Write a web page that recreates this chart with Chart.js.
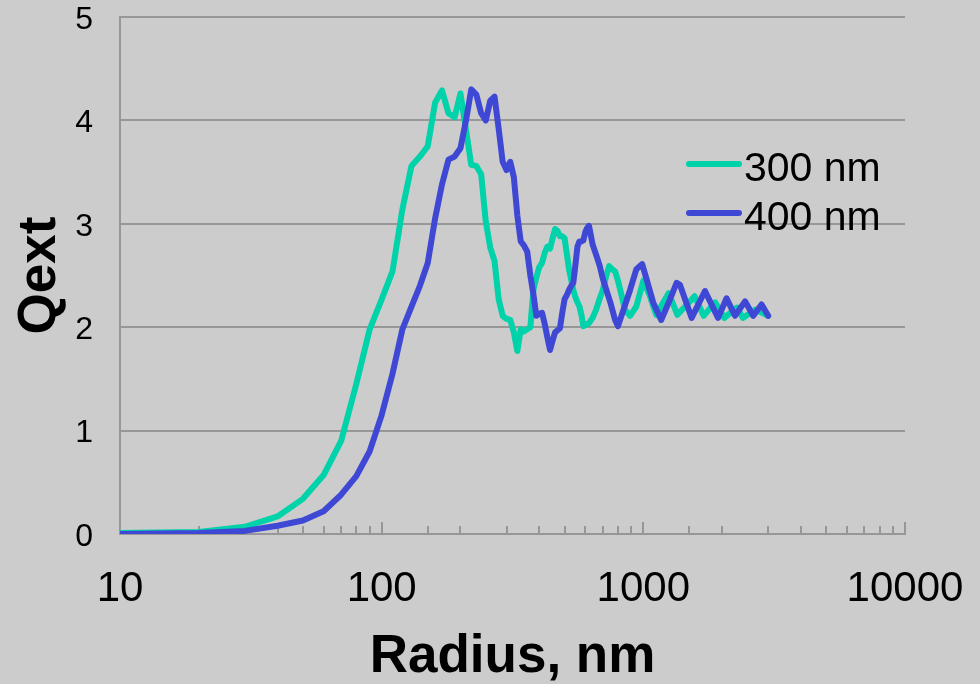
<!DOCTYPE html>
<html>
<head>
<meta charset="utf-8">
<script src="https://cdn.jsdelivr.net/npm/chart.js@4.4.1/dist/chart.umd.min.js"></script>
<style>
  html, body { margin: 0; padding: 0; background: #cccccc; }
  #wrap { position: relative; width: 980px; height: 684px; }
  #legend { position: absolute; left: 686px; top: 143px; font: 41px "Liberation Sans", Arial, sans-serif; color: #000; }
  .row { display: flex; align-items: center; height: 49px; white-space: nowrap; }
  .swatch { width: 56px; height: 6px; border-radius: 3px; margin-right: 2px; position: relative; top: -4px; }
</style>
</head>
<body>
<div id="wrap">
  <canvas id="chart" width="980" height="684" style="width:980px;height:684px"></canvas>
  <div id="legend"></div>
</div>
<script>
// radius (nm) and extinction efficiency
const radius300 = [10, 20, 30, 40, 50, 60, 70, 80, 90, 100, 110, 120, 130, 140, 150, 160, 170, 180, 190, 200,
  210, 220, 230, 240, 250, 260, 270, 280, 290, 300, 310, 320, 330, 340, 350, 360, 370, 380, 390, 400,
  410, 420, 430, 440, 450, 460, 470, 480, 490, 500, 510, 520, 530, 540, 550, 560, 570, 580, 590, 600,
  620, 640, 660, 680, 700, 720, 740, 760, 780, 800, 820, 850, 890, 940, 1000, 1060, 1120, 1250, 1350,
  1570, 1700, 1880, 2040, 2280, 2400, 2680, 3000];
const qext300 = [0.01, 0.02, 0.07, 0.17, 0.34, 0.57, 0.90, 1.45, 1.98, 2.27, 2.54, 3.14, 3.56, 3.65, 3.75, 4.17, 4.29, 4.07, 4.03, 4.26,
  3.91, 3.57, 3.56, 3.48, 3.02, 2.77, 2.64, 2.27, 2.11, 2.08, 2.07, 1.95, 1.77, 1.98, 1.96, 1.98, 2.00, 2.36, 2.48, 2.58,
  2.62, 2.72, 2.78, 2.76, 2.86, 2.95, 2.93, 2.88, 2.88, 2.86, 2.71, 2.56, 2.46, 2.36, 2.29, 2.24, 2.20, 2.12, 2.01, 2.02,
  2.04, 2.09, 2.17, 2.27, 2.36, 2.49, 2.59, 2.56, 2.54, 2.45, 2.34, 2.17, 2.11, 2.20, 2.45, 2.30, 2.12, 2.33, 2.12,
  2.30, 2.11, 2.24, 2.09, 2.19, 2.09, 2.17, 2.11];

const radius400 = [10, 20, 30, 40, 50, 60, 70, 80, 90, 100, 110, 120, 130, 140, 150, 160, 170, 180, 190, 200,
  210, 220, 230, 240, 250, 260, 270, 280, 290, 300, 310, 320, 330, 340, 350, 360, 370, 380, 390, 400,
  410, 420, 430, 440, 450, 460, 470, 480, 490, 500, 510, 520, 530, 540, 550, 560, 570, 580, 590, 600,
  610, 620, 640, 660, 680, 700, 720, 750, 780, 800, 840, 890, 940, 990, 1030, 1090, 1170, 1260, 1340, 1380,
  1530, 1720, 1930, 2080, 2240, 2450, 2630, 2830, 3000];
const qext400 = [0.00, 0.01, 0.03, 0.08, 0.13, 0.22, 0.38, 0.56, 0.80, 1.15, 1.55, 1.98, 2.20, 2.40, 2.62, 3.05, 3.38, 3.62, 3.65, 3.73,
  4.00, 4.30, 4.25, 4.07, 4.00, 4.19, 4.23, 3.92, 3.60, 3.52, 3.60, 3.45, 3.08, 2.83, 2.79, 2.73, 2.50, 2.32, 2.11, 2.13,
  2.14, 2.03, 1.90, 1.78, 1.87, 1.95, 1.97, 1.99, 2.14, 2.27, 2.31, 2.36, 2.40, 2.43, 2.60, 2.78, 2.83, 2.83, 2.84, 2.92,
  2.96, 2.98, 2.80, 2.70, 2.60, 2.47, 2.37, 2.23, 2.07, 2.01, 2.17, 2.36, 2.56, 2.61, 2.46, 2.24, 2.07, 2.26, 2.43, 2.41,
  2.09, 2.35, 2.09, 2.28, 2.11, 2.25, 2.11, 2.22, 2.11];

const seriesNames = ['300 nm', '400 nm'];
const seriesColors = ['#00d2aa', '#3f48d5'];
const xTickLabels = [10, 100, 1000, 10000];
const yTickLabels = [0, 1, 2, 3, 4, 5];

const FONT = '"Liberation Sans", Arial, sans-serif';
const GRID = '#979797';

const toPoints = (xs, ys) => xs.map((x, i) => ({ x: x, y: ys[i] }));
const isLabelled = v => xTickLabels.some(t => Math.abs(t - v) / t < 1e-6);

// Excel-style tick marks pointing up into the plot
const innerTicks = {
  id: 'innerTicks',
  beforeDatasetsDraw(chart) {
    const xs = chart.scales.x;
    const ctx = chart.ctx;
    const base = chart.chartArea.bottom;
    ctx.save();
    ctx.strokeStyle = GRID;
    ctx.lineWidth = 2;
    xs.ticks.forEach(t => {
      const px = Math.round(xs.getPixelForValue(t.value));
      const len = isLabelled(t.value) ? 12 : 8;
      ctx.beginPath();
      ctx.moveTo(px, base);
      ctx.lineTo(px, base - len);
      ctx.stroke();
    });
    ctx.restore();
  }
};

const chart = new Chart(document.getElementById('chart'), {
  type: 'line',
  data: {
    datasets: [
      { label: seriesNames[0], data: toPoints(radius300, qext300), borderColor: seriesColors[0], order: 2 },
      { label: seriesNames[1], data: toPoints(radius400, qext400), borderColor: seriesColors[1], order: 1 }
    ]
  },
  options: {
    responsive: false,
    animation: false,
    events: [],
    layout: { padding: { top: 17, right: 75, left: 0, bottom: 0 } },
    elements: {
      line: { borderWidth: 6, tension: 0, borderCapStyle: 'round', borderJoinStyle: 'round', fill: false },
      point: { radius: 0 }
    },
    plugins: { legend: { display: false }, tooltip: { enabled: false } },
    scales: {
      x: {
        type: 'logarithmic',
        min: 10,
        max: 10000,
        grid: { display: false, drawTicks: false },
        border: { display: true, color: GRID, width: 2 },
        ticks: {
          autoSkip: false,
          maxRotation: 0,
          padding: 34,
          color: '#000',
          font: { family: FONT, size: 42, lineHeight: 1 },
          callback: v => (isLabelled(v) ? String(Math.round(v)) : '')
        },
        title: {
          display: true,
          text: 'Radius, nm',
          color: '#000',
          font: { family: FONT, size: 53, weight: 'bold', lineHeight: 1 },
          padding: { top: 0, bottom: 0 }
        },
        afterFit: s => { s.height = 150; s.paddingLeft = 0; s.paddingRight = 0; }
      },
      y: {
        min: 0,
        max: 5,
        afterBuildTicks: s => { s.ticks = yTickLabels.map(v => ({ value: v })); },
        grid: { color: GRID, lineWidth: 2, drawTicks: false },
        border: { display: true, color: GRID, width: 2 },
        ticks: {
          padding: 27,
          labelOffset: 3,
          color: '#000',
          font: { family: FONT, size: 32, lineHeight: 1 }
        },
        title: {
          display: true,
          text: 'Qext',
          color: '#000',
          font: { family: FONT, size: 53, weight: 'bold', lineHeight: 1 },
          padding: { top: 14, bottom: 0 }
        },
        afterFit: s => { s.width = 120; s.paddingTop = 0; s.paddingBottom = 0; }
      }
    }
  },
  plugins: [innerTicks]
});

// legend placed inside the plot like the original
const legend = document.getElementById('legend');
chart.data.datasets
  .slice()
  .sort((a, b) => seriesNames.indexOf(a.label) - seriesNames.indexOf(b.label))
  .forEach(ds => {
    const row = document.createElement('div');
    row.className = 'row';
    const sw = document.createElement('span');
    sw.className = 'swatch';
    sw.style.background = ds.borderColor;
    const txt = document.createElement('span');
    txt.textContent = ds.label;
    row.appendChild(sw);
    row.appendChild(txt);
    legend.appendChild(row);
  });
</script>
</body>
</html>
